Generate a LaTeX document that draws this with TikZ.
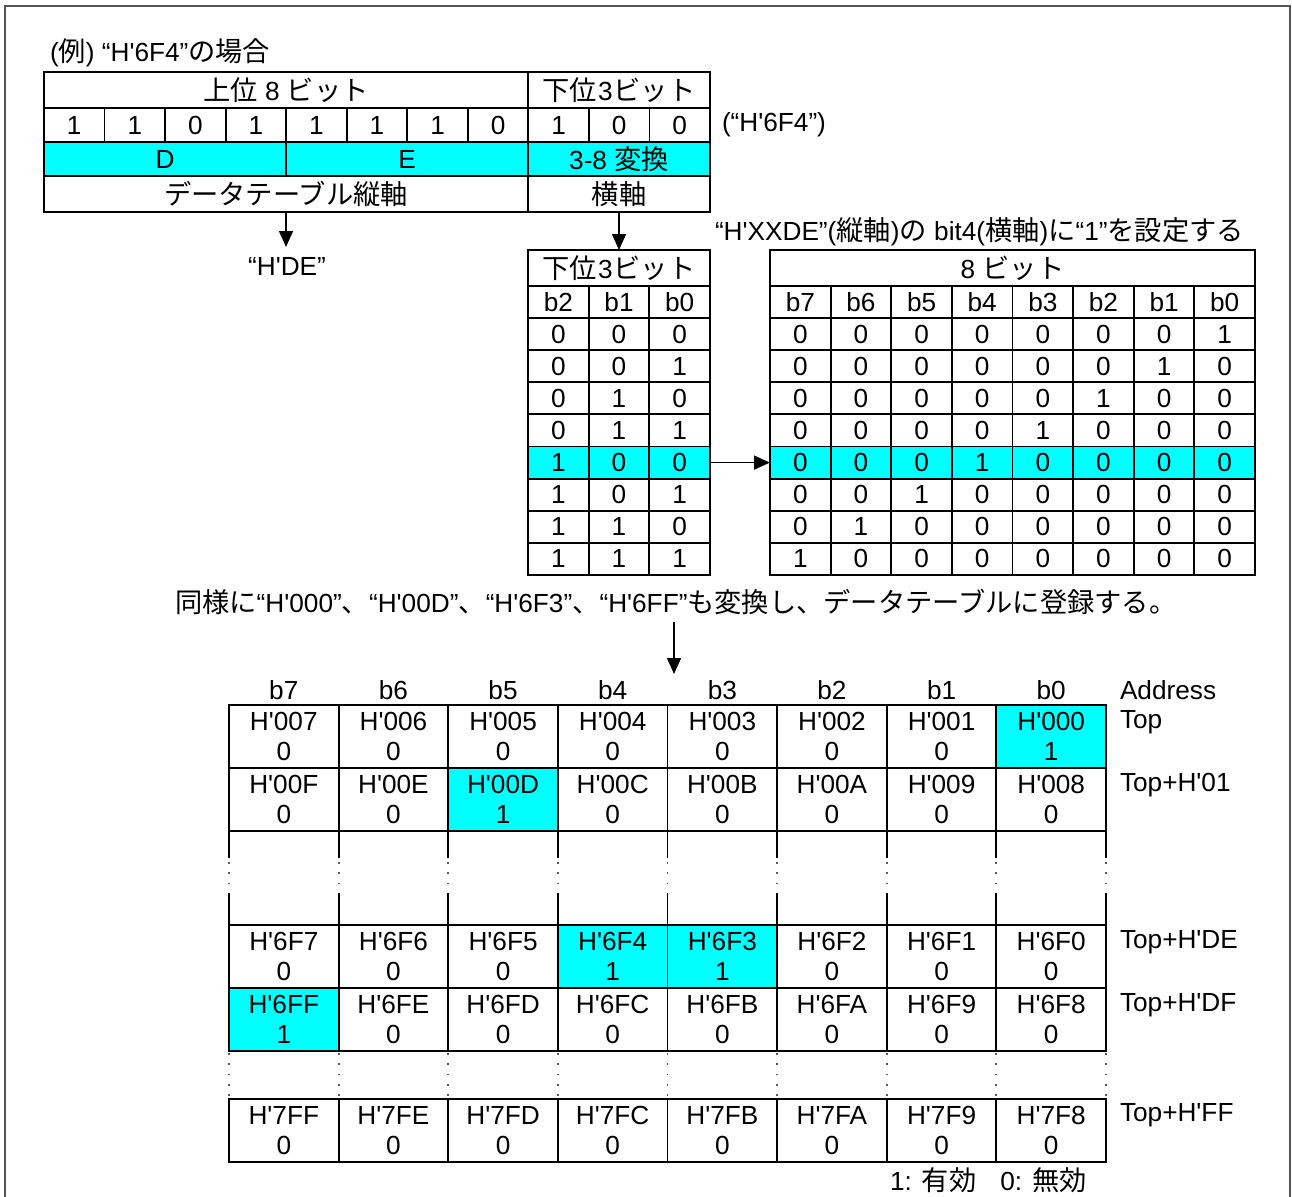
\documentclass[tikz,border=0pt]{standalone}
\usepackage{fontspec}
\setmainfont{Liberation Sans}
\newfontfamily\lat{Liberation Sans}
\newfontfamily\jp{Noto Sans CJK JP}[Scale=1.04]
\usetikzlibrary{arrows.meta}
\definecolor{hl}{RGB}{0,255,255}
\definecolor{framec}{RGB}{85,85,85}
\newcommand\J[1]{{\jp #1}}
\newcommand\Cell[7]{%
  \pgfmathsetmacro\CellX{((#2)+(#4))/2}\pgfmathsetmacro\CellY{((#3)+(#5))/2}%
  \pgfmathsetmacro\CellW{(#4)-(#2)}\pgfmathsetmacro\CellH{(#5)-(#3)}%
  \node[cellst,fill=#6,minimum width=\CellW pt,minimum height=\CellH pt] (#1) at (\CellX,\CellY) {#7};}
\newcommand\AddrRow[3]{%
  \foreach \kk/\ad/\vv in {#3}{%
    \ifnum\vv=1 \def\fc{hl}\else\def\fc{white}\fi
    \Cell{#1\kk}{229+109.625*\kk}{#2}{229+109.625*(\kk+1)}{#2+63}{\fc}{\ad\\\vv}}}
\begin{document}
\begin{tikzpicture}[x=1pt,y=-1pt,
  every node/.style={font=\lat\fontsize{26.2}{30}\selectfont, inner sep=0pt, outer sep=0pt},
  cellst/.style={draw=black, line width=1.8pt, align=center},
  arr/.style={line width=1.5pt, -{Triangle[length=16pt,width=14pt]}},
  dotl/.style={line width=1.8pt, gray!70!black, dash pattern=on 1.8pt off 8.5pt},
  txt/.style={anchor=west}]
\useasboundingbox (0,0) rectangle (1292,1196);
% frame
\draw[framec, line width=2pt] (5,1200) -- (5,6) -- (1290,6) -- (1290,1200);

% title
\node[txt] (title) at (50,53) {(\J{例}) “H'6F4”\J{の場合}};

% top table
\Cell{hi}{44}{72}{528}{108}{white}{\J{上位} 8 \J{ビット}}
\Cell{lo}{528}{72}{710}{108}{white}{\J{下位}\hspace{1pt}3\hspace{1pt}\J{ビット}}
\foreach \kk/\bb in {0/1,1/1,2/0,3/1,4/1,5/1,6/1,7/0,8/1,9/0,10/0}{
  \Cell{bit\kk}{44+60.545*\kk}{108}{44+60.545*(\kk+1)}{142}{white}{\bb}}
\Cell{cD}{44}{142}{286}{176}{hl}{D}
\Cell{cE}{286}{142}{528}{176}{hl}{E}
\Cell{conv}{528}{142}{710}{176}{hl}{3-8 \J{変換}}
\Cell{vert}{44}{176}{528}{212}{white}{\J{データテーブル縦軸}}
\Cell{horiz}{528}{176}{710}{212}{white}{\J{横軸}}
\node[txt] (hexlbl) at (722,125) {(“H'6F4”)};

% arrows down
\coordinate (hdetop) at (286,247);
\draw[arr] (vert.south) -- (vert.south |- hdetop);
\node (hde) at (287,266) {“H'DE”};

\node[txt] (setlbl) at (715,232) {“H'XXDE”(\J{縦軸})\J{の} bit4(\J{横軸})\J{に}“1”\J{を設定する}};

% small 3-bit table
\Cell{sh}{528}{250}{710}{286}{white}{\J{下位}\hspace{1pt}3\hspace{1pt}\J{ビット}}
\draw[arr] (horiz.south) -- (sh.north);
\foreach \kk/\bn in {0/b2,1/b1,2/b0}{
  \Cell{sb\kk}{528+60.667*\kk}{286}{528+60.667*(\kk+1)}{318}{white}{\bn}}
% big 8-bit table
\Cell{bh}{770}{250}{1255}{286}{white}{8 \J{ビット}}
\foreach \kk/\bn in {0/b7,1/b6,2/b5,3/b4,4/b3,5/b2,6/b1,7/b0}{
  \Cell{bb\kk}{770+60.625*\kk}{286}{770+60.625*(\kk+1)}{318}{white}{\bn}}
\foreach \rr in {0,...,7}{
  \pgfmathsetmacro\ry{318+32.125*\rr}
  \ifnum\rr=4 \def\fc{hl}\else\def\fc{white}\fi
  \foreach \kk in {0,1,2}{
    \pgfmathtruncatemacro\bv{mod(floor(\rr/(2^(2-\kk))),2)}
    \Cell{s\rr c\kk}{528+60.667*\kk}{\ry}{528+60.667*(\kk+1)}{\ry+32.125}{\fc}{\bv}}
  \foreach \kk in {0,...,7}{
    \pgfmathtruncatemacro\bv{(7-\kk)==\rr ? 1 : 0}
    \Cell{g\rr c\kk}{770+60.625*\kk}{\ry}{770+60.625*(\kk+1)}{\ry+32.125}{\fc}{\bv}}
}
\draw[arr] (s4c2.east) -- (g4c0.west);

% same text
\node[txt] (same) at (175,602) {\J{同様に}“H'000”\J{、}“H'00D”\J{、}“H'6F3”\J{、}“H'6FF”\J{も変換し、データテーブルに登録する。}};
\coordinate (a3s) at (674,622);
\coordinate (a3e) at (674,674);
\draw[arr] (a3s) -- (a3e);

% bottom table header
\foreach \kk/\bn in {0/b7,1/b6,2/b5,3/b4,4/b3,5/b2,6/b1,7/b0}{
  \node (hd\kk) at ({229+109.625*(\kk+0.5)},690) {\bn};}
\node[txt] (addr) at (1120,690) {Address};

\AddrRow{ra}{705}{0/H'007/0,1/H'006/0,2/H'005/0,3/H'004/0,4/H'003/0,5/H'002/0,6/H'001/0,7/H'000/1}
\AddrRow{rb}{768}{0/H'00F/0,1/H'00E/0,2/H'00D/1,3/H'00C/0,4/H'00B/0,5/H'00A/0,6/H'009/0,7/H'008/0}
\AddrRow{rc}{925}{0/H'6F7/0,1/H'6F6/0,2/H'6F5/0,3/H'6F4/1,4/H'6F3/1,5/H'6F2/0,6/H'6F1/0,7/H'6F0/0}
\AddrRow{rd}{988}{0/H'6FF/1,1/H'6FE/0,2/H'6FD/0,3/H'6FC/0,4/H'6FB/0,5/H'6FA/0,6/H'6F9/0,7/H'6F8/0}
\AddrRow{re}{1099}{0/H'7FF/0,1/H'7FE/0,2/H'7FD/0,3/H'7FC/0,4/H'7FB/0,5/H'7FA/0,6/H'7F9/0,7/H'7F8/0}

% gap lines
\foreach \kk in {0,...,8}{
  \pgfmathsetmacro\gx{229+109.625*\kk}
  \draw[line width=1.8pt] (\gx,831) -- (\gx,858);
  \draw[dotl] (\gx,862) -- (\gx,893);
  \draw[line width=1.8pt] (\gx,893) -- (\gx,925);
  \draw[dotl] (\gx,1053) -- (\gx,1099);
}

\node[txt] (ta) at (1120,722) {Top};
\node[txt] (tb) at (1120,785) {Top+H'01};
\node[txt] (tc) at (1120,942) {Top+H'DE};
\node[txt] (td) at (1120,1005) {Top+H'DF};
\node[txt] (te) at (1120,1115) {Top+H'FF};

\node[txt] (legend) at (890,1180) {1:\hspace{10pt}\J{有効}\hspace{24pt}0:\hspace{10pt}\J{無効}};
\end{tikzpicture}
\end{document}
